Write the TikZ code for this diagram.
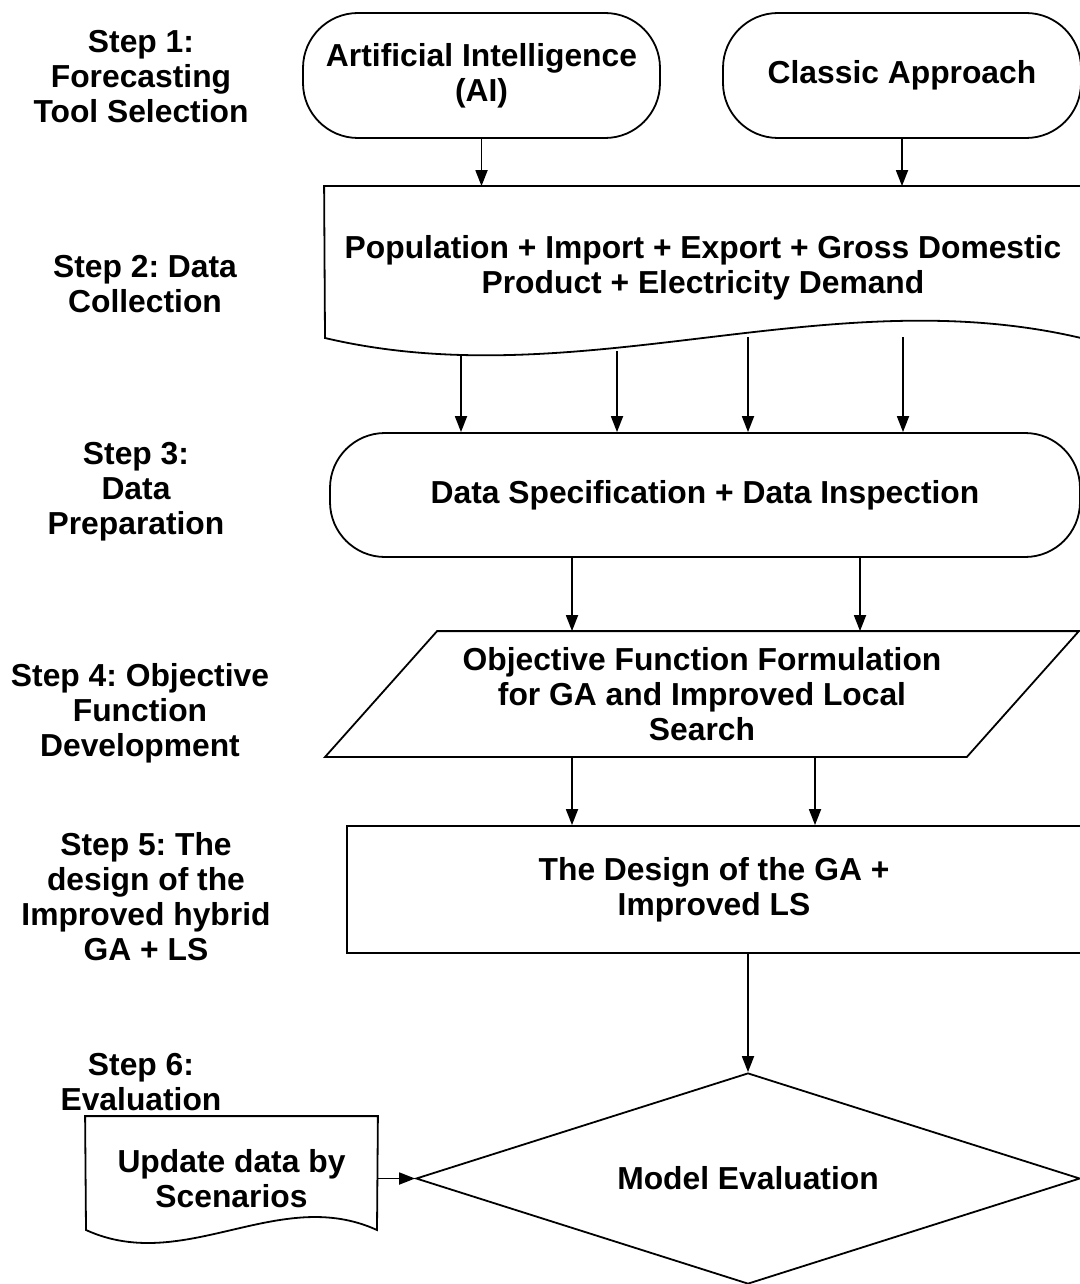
\documentclass[tikz,border=0pt]{standalone}
\usepackage{fontspec}
\setmainfont{Liberation Sans}
\usetikzlibrary{shapes.geometric,arrows.meta}
\tikzset{
  every node/.style={font=\fontsize{31.8}{35}\selectfont\bfseries\frenchspacing, align=center},
  terminal/.style={draw, rectangle, rounded corners=55pt, inner sep=0pt, minimum height=125pt},
  docbox/.style={rectangle, inner sep=0pt},
  process/.style={draw, rectangle, inner sep=0pt, minimum width=734pt, minimum height=127pt},
  decision/.style={draw, diamond, aspect=3.15, inner sep=0pt, minimum width=664pt, minimum height=211pt},
  flow/.style={-{Triangle[length=16pt,width=12pt]}},
}
\begin{document}
\begin{tikzpicture}[x=1pt,y=-1pt,line width=1.8pt]
      \useasboundingbox (0,0) rectangle (1079,1284);
      % step labels
      \draw
        (141,77) node (s1){Step 1:\\Forecasting\\Tool Selection}
        (145,284) node (s2){Step 2: Data\\Collection}
        (136,492) node (s3){Step 3:\\Data\\Preparation}
        (140,713) node (s4){Step 4: Objective\\Function\\Development}
        (146,897) node (s5){Step 5: The\\design of the\\Improved hybrid\\GA + LS}
        (141,1082) node (s6){Step 6:\\Evaluation};
      % flow chart
      \draw
        (481.5,75.5) node[terminal, minimum width=357pt] (ai){Artificial Intelligence\\(AI)}
        (902,75.5) node[terminal, minimum width=358pt] (classic){Classic Approach}
        (703,268) node[docbox, minimum width=756pt, minimum height=162pt] (collect){Population + Import + Export + Gross Domestic\\Product + Electricity Demand}
        (705,495) node[terminal, minimum width=750pt, minimum height=124pt] (prep){Data Specification + Data Inspection}
        (702,694) node[docbox, minimum width=640pt, minimum height=124pt] (objf){Objective Function Formulation\\for GA and Improved Local\\Search}
        (714,889.5) node[process] (design){The Design of the GA +\\Improved LS}
        (748,1178.5) node[decision] (evalm){Model Evaluation}
        (231.5,1178.5) node[docbox, minimum width=291pt, minimum height=123pt] (update){Update data by\\Scenarios};
      % outlines drawn by hand
      \draw (collect.north west) -- (collect.north east) -- (1081,338)
        .. controls (826,278) and (580,398) .. (325,338) -- cycle;
      \draw ([xshift=56pt]objf.north west) -- ([xshift=56pt]objf.north east)
        -- ([xshift=-56pt]objf.south east) -- ([xshift=-56pt]objf.south west) -- cycle;
      \draw (update.north west) -- (update.north east) -- (377,1230)
        .. controls (278.5,1185) and (184.5,1275) .. (86,1230) -- cycle;
      \coordinate (w1) at (461,355);
      \coordinate (w2) at (617,351);
      \coordinate (w3) at (748,337);
      \coordinate (w4) at (903,337);
      \begin{scope}[flow]
        \draw (ai.south) to (ai.south |- collect.north);
        \draw (classic.south) to (classic.south |- collect.north);
        \draw (w1) to (w1 |- prep.north);
        \draw (w2) to (w2 |- prep.north);
        \draw (w3) to (w3 |- prep.north);
        \draw (w4) to (w4 |- prep.north);
        \draw (572,0 |- prep.south) to (572,0 |- objf.north);
        \draw (860,0 |- prep.south) to (860,0 |- objf.north);
        \draw (572,0 |- objf.south) to (572,0 |- design.north);
        \draw (815,0 |- objf.south) to (815,0 |- design.north);
        \draw (evalm.north |- design.south) to (evalm.north);
        \draw (update.east) to (evalm.west);
      \end{scope}
    \end{tikzpicture}
\end{document}
